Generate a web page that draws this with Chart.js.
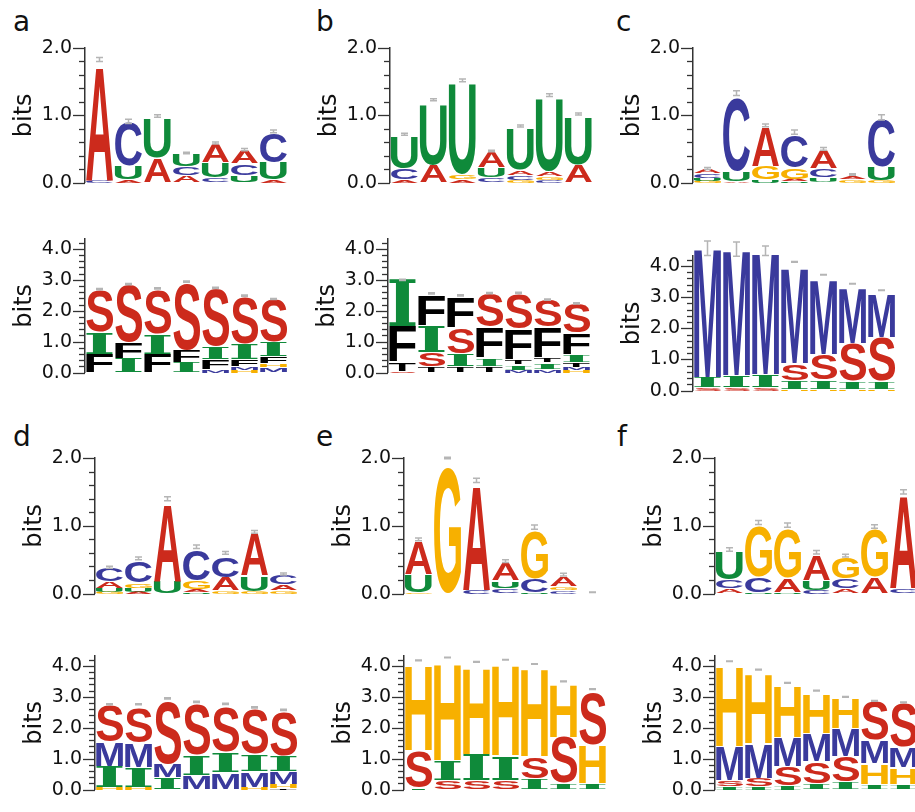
<!DOCTYPE html>
<html>
<head>
<meta charset="utf-8">
<script src="https://cdn.jsdelivr.net/npm/chart.js@4/dist/chart.umd.min.js"></script>
<style>
body { margin: 0; width: 915px; height: 812px; overflow: hidden; background: #fff; position: relative; font-family: "DejaVu Sans", sans-serif; }
canvas { position: absolute; }
.tag { position: absolute; font-size: 28px; line-height: 1; color: #111; }
</style>
</head>
<body>
<div class="tag" style="left:13px;top:8px">a</div>
<div class="tag" style="left:316px;top:8px">b</div>
<div class="tag" style="left:616px;top:8px">c</div>
<div class="tag" style="left:13px;top:423px">d</div>
<div class="tag" style="left:316px;top:423px">e</div>
<div class="tag" style="left:617px;top:423px">f</div>
<script>
// letters of each column, bottom -> top; bits of each letter in the same order
// err = [centre, half range] of the grey error bar on each column

const aRnaSeq = ['CA', 'AUC', 'AU', 'ACU', 'CUA', 'UCA', 'AUC']
const aRnaBits = [[0.03, 1.69], [0.04, 0.21, 0.65], [0.36, 0.6], [0.1, 0.13, 0.19], [0.07, 0.23, 0.28], [0.11, 0.17, 0.2], [0.04, 0.26, 0.44]]
const aRnaErr = [[1.83, 0.03], [0.91, 0.03], [0.99, 0.02], [0.44, 0.01], [0.59, 0.015], [0.49, 0.015], [0.76, 0.02]]

const bRnaSeq = ['ACU', 'AU', 'AGU', 'CUA', 'GCAU', 'CGAU', 'AU']
const bRnaBits = [[0.04, 0.17, 0.48], [0.26, 0.91], [0.04, 0.07, 1.34], [0.08, 0.14, 0.24], [0.03, 0.07, 0.08, 0.62], [0.03, 0.06, 0.07, 1.08], [0.26, 0.71]]
const bRnaErr = [[0.72, 0.015], [1.23, 0.015], [1.52, 0.02], [0.47, 0.01], [0.84, 0.015], [1.3, 0.02], [1.02, 0.015]]

const cRnaSeq = ['GUCA', 'AUC', 'UGA', 'UAGC', 'UCA', 'GA', 'GUC']
const cRnaBits = [[0.03, 0.03, 0.07, 0.07], [0.02, 0.15, 1.1], [0.04, 0.2, 0.59], [0.02, 0.03, 0.17, 0.49], [0.08, 0.13, 0.28], [0.04, 0.06], [0.03, 0.2, 0.71]]
const cRnaErr = [[0.21, 0.015], [1.33, 0.035], [0.85, 0.02], [0.75, 0.03], [0.5, 0.02], [0.12, 0.01], [0.97, 0.04]]

const aProtSeq = ['FIS', 'IFS', 'FIS', 'IFS', 'MFIS', 'HMFIS', 'MHFIS']
const aProtBits = [[0.6, 0.7, 1.35], [0.45, 0.52, 1.85], [0.6, 0.65, 1.43], [0.32, 0.4, 2.18], [0.1, 0.33, 0.42, 1.85], [0.08, 0.1, 0.25, 0.5, 1.52], [0.15, 0.13, 0.25, 0.45, 1.37]]
const aProtErr = [[2.7, 0.02], [2.86, 0.02], [2.72, 0.02], [2.94, 0.02], [2.74, 0.02], [2.49, 0.02], [2.38, 0.02]]

const bProtSeq = ['STFI', 'TSIF', 'TISF', 'TIFS', 'MITFS', 'MITFS', 'HMTIFS']
const bProtBits = [[0.05, 0.3, 1.15, 1.52], [0.2, 0.45, 0.85, 1.0], [0.2, 0.42, 0.83, 1.0], [0.2, 0.27, 1.0, 1.08], [0.08, 0.17, 0.15, 1.0, 1.15], [0.1, 0.22, 0.15, 1.0, 0.88], [0.07, 0.1, 0.15, 0.25, 0.7, 0.95]]
const bProtErr = [[3.0, 0.02], [2.56, 0.02], [2.5, 0.02], [2.57, 0.02], [2.58, 0.02], [2.36, 0.02], [2.24, 0.02]]

const cProtSeq = ['SIM', 'SIM', 'SIM', 'HISM', 'HISM', 'HISM', 'HISM']
const cProtBits = [[0.1, 0.33, 4.15], [0.1, 0.38, 4.02], [0.1, 0.42, 3.89], [0.05, 0.28, 0.54, 3.07], [0.05, 0.28, 0.84, 2.39], [0.05, 0.25, 1.21, 1.79], [0.05, 0.25, 1.41, 1.41]]
const cProtErr = [[4.57, 0.23], [4.54, 0.23], [4.49, 0.15], [4.13, 0.01], [3.72, 0.01], [3.43, 0.01], [3.22, 0.01]]

const dRnaSeq = ['GUAC', 'AUGC', 'UA', 'UAGC', 'GAC', 'GUA', 'GAC']
const dRnaBits = [[0.03, 0.05, 0.1, 0.2], [0.03, 0.05, 0.08, 0.33], [0.18, 1.14], [0.02, 0.04, 0.12, 0.45], [0.04, 0.2, 0.3], [0.03, 0.23, 0.62], [0.04, 0.09, 0.14]]
const dRnaErr = [[0.39, 0.015], [0.52, 0.02], [1.4, 0.03], [0.69, 0.025], [0.6, 0.02], [0.91, 0.02], [0.29, 0.015]]

const eRnaSeq = ['GUA', 'G', 'CA', 'CUA', 'UCG', 'CGA', '']
const eRnaBits = [[0.02, 0.26, 0.49], [1.87], [0.05, 1.54], [0.08, 0.11, 0.26], [0.02, 0.2, 0.71], [0.04, 0.06, 0.15], []]
const eRnaErr = [[0.8, 0.02], [2.0, 0.01], [1.67, 0.03], [0.48, 0.02], [0.98, 0.03], [0.28, 0.02], [0.02, 0.005]]

const fRnaSeq = ['ACU', 'UCG', 'UAG', 'CUA', 'ACG', 'AG', 'CA']
const fRnaBits = [[0.07, 0.13, 0.42], [0.02, 0.22, 0.76], [0.02, 0.2, 0.74], [0.05, 0.15, 0.38], [0.07, 0.15, 0.32], [0.24, 0.71], [0.07, 1.37]]
const fRnaErr = [[0.65, 0.025], [1.05, 0.03], [1.01, 0.03], [0.61, 0.025], [0.56, 0.02], [0.99, 0.025], [1.5, 0.03]]

const dProtSeq = ['HIMS', 'HIMS', 'IMS', 'MIS', 'MIS', 'HMIS', 'THMIS']
const dProtBits = [[0.08, 0.67, 0.78, 1.17], [0.08, 0.65, 0.77, 1.15], [0.38, 0.45, 2.04], [0.45, 0.66, 1.64], [0.55, 0.66, 1.49], [0.08, 0.5, 0.56, 1.46], [0.04, 0.14, 0.4, 0.5, 1.42]]
const dProtErr = [[2.76, 0.02], [2.76, 0.02], [2.95, 0.02], [2.84, 0.02], [2.77, 0.02], [2.66, 0.02], [2.58, 0.02]]

const eProtSeq = ['ISH', 'SIH', 'SIH', 'SIH', 'ISH', 'ISH', 'IHS']
const eProtBits = [[0.06, 1.19, 2.77], [0.3, 0.65, 3.15], [0.3, 0.85, 2.82], [0.3, 0.8, 2.93], [0.35, 0.72, 2.83], [0.2, 1.5, 1.7], [0.2, 1.25, 1.7]]
const eProtErr = [[4.18, 0.01], [4.27, 0.01], [4.13, 0.01], [4.2, 0.01], [4.06, 0.01], [3.5, 0.01], [3.25, 0.01]]

const fProtSeq = ['ISMH', 'ISMH', 'ISMH', 'ISMH', 'ISMH', 'IHMS', 'IHMS']
const fProtBits = [[0.1, 0.2, 1.1, 2.6], [0.1, 0.27, 1.13, 2.25], [0.12, 0.63, 0.95, 1.67], [0.2, 0.7, 0.93, 1.3], [0.25, 0.82, 0.9, 0.98], [0.18, 0.67, 0.75, 1.25], [0.18, 0.55, 0.65, 1.42]]
const fProtErr = [[4.15, 0.01], [3.88, 0.01], [3.45, 0.01], [3.2, 0.01], [3.0, 0.01], [2.87, 0.01], [2.82, 0.01]]

const RNA_MAX = 2
const PROT_MAX = 4.32   // log2(20)

const COLORS = {
    A: '#cc2a1c', C: '#3a3a9c', G: '#f7b000', U: '#0f8a3a',
    S: '#cc2a1c', I: '#0f8a3a', F: '#000000', T: '#000000', M: '#3a3a9c', H: '#f7b000'
}

// page layout of each logo: x of the axis, y of 0 and of the max
const panels = [
    { seq: aRnaSeq, bits: aRnaBits, err: aRnaErr, max: RNA_MAX, axisX: 85, zero: 193, top: 48 },
    { seq: bRnaSeq, bits: bRnaBits, err: bRnaErr, max: RNA_MAX, axisX: 390, zero: 193, top: 48 },
    { seq: cRnaSeq, bits: cRnaBits, err: cRnaErr, max: RNA_MAX, axisX: 693, zero: 193, top: 48 },
    { seq: aProtSeq, bits: aProtBits, err: aProtErr, max: PROT_MAX, axisX: 85, zero: 383, top: 239 },
    { seq: bProtSeq, bits: bProtBits, err: bProtErr, max: PROT_MAX, axisX: 388, zero: 383, top: 239 },
    { seq: cProtSeq, bits: cProtBits, err: cProtErr, max: PROT_MAX, axisX: 693, zero: 401, top: 256 },
    { seq: dRnaSeq, bits: dRnaBits, err: dRnaErr, max: RNA_MAX, axisX: 95, zero: 604, top: 458 },
    { seq: eRnaSeq, bits: eRnaBits, err: eRnaErr, max: RNA_MAX, axisX: 404, zero: 604, top: 458 },
    { seq: fRnaSeq, bits: fRnaBits, err: fRnaErr, max: RNA_MAX, axisX: 715, zero: 604, top: 458 },
    { seq: dProtSeq, bits: dProtBits, err: dProtErr, max: PROT_MAX, axisX: 95, zero: 800, top: 656 },
    { seq: eProtSeq, bits: eProtBits, err: eProtErr, max: PROT_MAX, axisX: 404, zero: 800, top: 656 },
    { seq: fProtSeq, bits: fProtBits, err: fProtErr, max: PROT_MAX, axisX: 715, zero: 800, top: 656 },
]

const SCALE_W = 84
const COL_W = 29
const PAD_TOP = 40
const PAD_BOTTOM = 14
const SANS = 'bold 100px "Liberation Sans"'
const SERIF = 'bold 100px "DejaVu Serif"'   // the I of the logos has slab serifs
const fontFor = (ch) => ch === 'I' ? SERIF : SANS

const glyphCache = {}
function glyph(ch) {
    if (!glyphCache[ch]) {
        const c = document.createElement('canvas').getContext('2d')
        c.font = fontFor(ch)
        const m = c.measureText(ch)
        glyphCache[ch] = { l: m.actualBoundingBoxLeft, r: m.actualBoundingBoxRight, a: m.actualBoundingBoxAscent, d: m.actualBoundingBoxDescent }
    }
    return glyphCache[ch]
}

// stretch one letter into the box of its bar
function drawLetter(ctx, ch, x, y, w, h) {
    const g = glyph(ch)
    if (h > 4) { y += 0.5; h -= 1 }
    ctx.save()
    ctx.translate(x, y)
    ctx.scale(w / (g.l + g.r), h / (g.a + g.d))
    ctx.font = fontFor(ch)
    ctx.fillStyle = COLORS[ch]
    ctx.textAlign = 'left'
    ctx.textBaseline = 'alphabetic'
    ctx.fillText(ch, g.l, g.a)
    ctx.restore()
}

function logoPlugin(p) {
    return {
        id: 'logo',
        afterDatasetsDraw(chart) {
            const ctx = chart.ctx
            chart.data.datasets.forEach((ds, d) => {
                chart.getDatasetMeta(d).data.forEach((bar, i) => {
                    const ch = ds.letters[i]
                    const h = Math.abs(bar.base - bar.y)
                    if (!ch || h < 0.3) return
                    drawLetter(ctx, ch, bar.x - bar.width / 2, Math.min(bar.y, bar.base), bar.width, h)
                })
            })
        },
        afterDraw(chart) {
            const ctx = chart.ctx
            const y = chart.scales.y
            const left = chart.chartArea.left
            ctx.save()
            // minor ticks every 0.2 bits, longer ones on whole bits
            ctx.strokeStyle = '#333'
            ctx.lineWidth = 1.3
            const nTicks = Math.floor(p.max / 0.2 + 1e-6)
            for (let k = 0; k <= nTicks; k++) {
                const py = Math.round(y.getPixelForValue(k * 0.2)) + 0.5
                const len = k % 5 === 0 ? 12 : 6
                ctx.beginPath()
                ctx.moveTo(left - len, py)
                ctx.lineTo(left, py)
                ctx.stroke()
            }
            // error bars
            ctx.strokeStyle = '#b5b5b5'
            ctx.lineWidth = 1.5
            const meta = chart.getDatasetMeta(0)
            p.err.forEach(([c, half], i) => {
                const x = meta.data[i].x
                const y1 = y.getPixelForValue(c + half)
                const y2 = y.getPixelForValue(c - half)
                ctx.beginPath()
                ctx.moveTo(x, y1); ctx.lineTo(x, y2)
                ctx.moveTo(x - 3.5, y1); ctx.lineTo(x + 3.5, y1)
                ctx.moveTo(x - 3.5, y2); ctx.lineTo(x + 3.5, y2)
                ctx.stroke()
            })
            ctx.restore()
        }
    }
}

function makePanel(p) {
    const n = p.seq.length
    const layers = Math.max(...p.bits.map(b => b.length))
    const datasets = []
    for (let k = 0; k < layers; k++) {
        datasets.push({
            data: p.bits.map(b => b[k] || 0),
            letters: p.seq.map(s => s[k] || ''),
            backgroundColor: 'rgba(0,0,0,0)',
            borderWidth: 0,
            categoryPercentage: 0.93,
            barPercentage: 1
        })
    }

    const canvas = document.createElement('canvas')
    const plotH = p.zero - p.top
    canvas.width = SCALE_W + n * COL_W
    canvas.height = PAD_TOP + plotH + PAD_BOTTOM
    canvas.style.left = (p.axisX - SCALE_W) + 'px'
    canvas.style.top = (p.top - PAD_TOP) + 'px'
    document.body.appendChild(canvas)

    const whole = []
    for (let v = 0; v <= p.max; v++) whole.push(v)

    new Chart(canvas.getContext('2d'), {
        type: 'bar',
        data: { labels: p.seq.map((s, i) => String(i + 1)), datasets: datasets },
        options: {
            responsive: false,
            animation: false,
            events: [],
            devicePixelRatio: 1,
            layout: { padding: { top: PAD_TOP, bottom: PAD_BOTTOM, left: 0, right: 0 } },
            plugins: { legend: { display: false }, tooltip: { enabled: false } },
            scales: {
                x: { stacked: true, display: false },
                y: {
                    stacked: true,
                    min: 0,
                    max: p.max,
                    afterFit: (s) => { s.width = SCALE_W },
                    afterBuildTicks: (s) => { s.ticks = whole.map(v => ({ value: v })) },
                    grid: { display: false, drawTicks: false },
                    border: { display: true, color: '#333', width: 1.5 },
                    ticks: {
                        padding: 13,
                        color: '#111',
                        font: { family: 'DejaVu Sans', size: 19 },
                        callback: (v) => Number(v).toFixed(1)
                    },
                    title: {
                        display: true,
                        text: 'bits',
                        color: '#111',
                        font: { family: 'DejaVu Sans', size: 24 },
                        padding: { top: 9, bottom: 0 }
                    }
                }
            }
        },
        plugins: [logoPlugin(p)]
    })
}

panels.forEach(makePanel)
</script>
</body>
</html>
